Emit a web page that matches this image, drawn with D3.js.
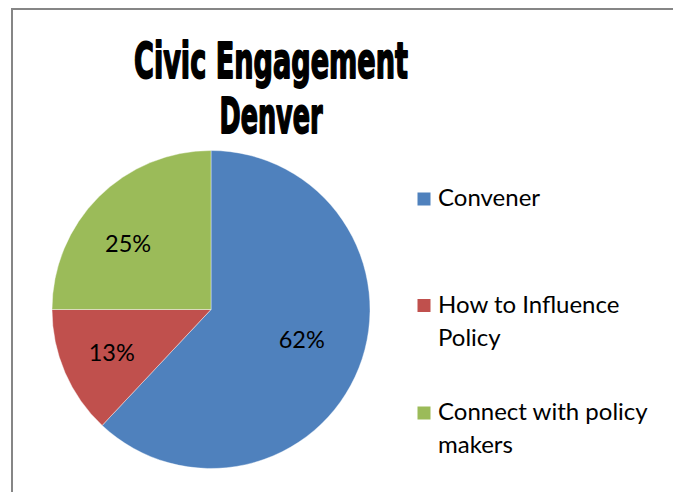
<!DOCTYPE html>
<html>
<head>
<meta charset="utf-8">
<script src="https://cdn.jsdelivr.net/npm/d3@7"></script>
<style>
  html, body { margin: 0; padding: 0; background: #fff; }
  svg { display: block; }
</style>
</head>
<body>
<svg id="chart" width="673" height="492"></svg>
<script>
// Pie chart: Civic Engagement, Denver
const categories = ["Convener", "How to Influence Policy", "Connect with policy makers"];
const values = [62, 13, 25];
const valueLabels = ["62%", "13%", "25%"];
const colors = ["#4F81BD", "#C0504D", "#9BBB59"];
const legendLines = [["Convener"], ["How to Influence", "Policy"], ["Connect with policy", "makers"]];
const titleLines = ["Civic Engagement", "Denver"];

const svg = d3.select("#chart");

// Chart frame
svg.append("rect")
  .attr("x", 12).attr("y", 9)
  .attr("width", 700).attr("height", 520)
  .attr("fill", "#fff")
  .attr("stroke", "#868686")
  .attr("stroke-width", 2);

// Title: heavy narrow face fitted to a condensed width
const titleWidths = [274, 103];
const titleBaselines = [78, 133];
svg.append("g").selectAll("text")
  .data(titleLines)
  .join("text")
  .attr("x", 271)
  .attr("y", (d, i) => titleBaselines[i])
  .attr("text-anchor", "middle")
  .attr("font-family", "'Liberation Sans Narrow', 'DejaVu Sans Condensed', sans-serif")
  .attr("font-weight", 700)
  .attr("font-size", 50)
  .attr("textLength", (d, i) => titleWidths[i])
  .attr("lengthAdjust", "spacingAndGlyphs")
  .attr("fill", "#000")
  .attr("stroke", "#000")
  .attr("stroke-width", 1.8)
  .attr("stroke-linejoin", "round")
  .text(d => d);

// Pie
const cx = 211, cy = 309.5, r = 159;
const pie = d3.pie().sort(null).value(d => d)(values);
const arc = d3.arc().innerRadius(0).outerRadius(r);
const pieG = svg.append("g").attr("transform", `translate(${cx},${cy})`);
pieG.selectAll("path")
  .data(pie)
  .join("path")
  .attr("d", arc)
  .attr("fill", (d, i) => colors[i])
  .attr("stroke", "#fff")
  .attr("stroke-width", 0.4);

// Data labels placed inside each slice along a shifted mid-angle
const labelRadius = [0.60, 0.68, 0.665];
const labelTurn = [-3.5, 0, -6.6];
pieG.selectAll("text")
  .data(pie)
  .join("text")
  .attr("transform", (d, i) => {
    const a = (d.startAngle + d.endAngle) / 2 + labelTurn[i] * Math.PI / 180;
    const rr = r * labelRadius[i];
    return `translate(${rr * Math.sin(a)},${-rr * Math.cos(a)})`;
  })
  .attr("text-anchor", "middle")
  .attr("dy", "0.36em")
  .attr("font-family", "Lato, 'Open Sans', sans-serif")
  .attr("font-size", 23.5)
  .attr("fill", "#000")
  .text((d, i) => valueLabels[i]);

// Legend
const legendY = [206, 312.5, 420];
const legend = svg.append("g");
categories.forEach((c, i) => {
  const g = legend.append("g");
  g.append("rect")
    .attr("x", 417.5).attr("y", legendY[i] - 13.5)
    .attr("width", 13).attr("height", 13)
    .attr("fill", colors[i]);
  g.append("text")
    .attr("font-family", "Lato, 'Open Sans', sans-serif")
    .attr("font-size", 24)
    .attr("fill", "#000")
    .selectAll("tspan")
    .data(legendLines[i])
    .join("tspan")
    .attr("x", 438)
    .attr("y", (d, j) => legendY[i] + j * 33)
    .text(d => d);
});
</script>
</body>
</html>
